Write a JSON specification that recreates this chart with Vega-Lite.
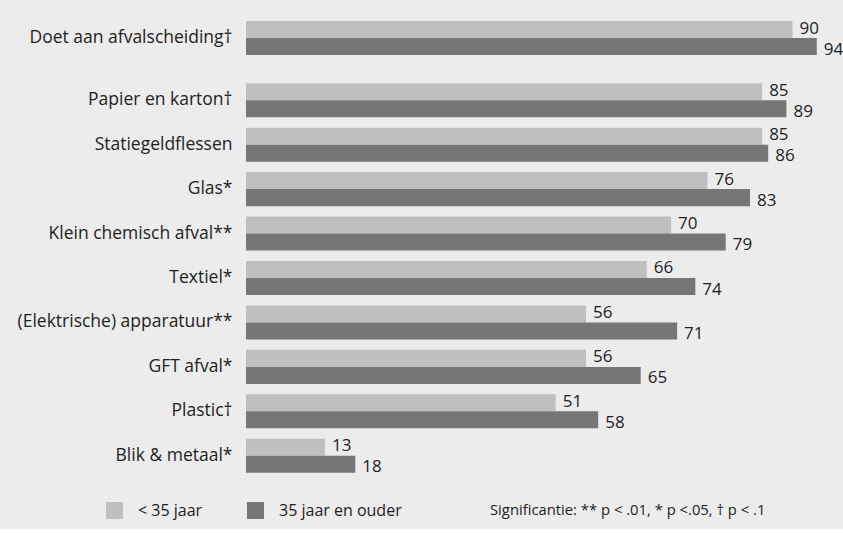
{
  "$schema": "https://vega.github.io/schema/vega-lite/v6.json",
  "background": "#ececec",
  "padding": {"left": 6, "top": 19, "right": 4, "bottom": 10},
  "config": {
    "font": "Open Sans",
    "view": {"stroke": null},
    "axis": {"labelFont": "Open Sans", "labelFontSize": 17.5, "labelColor": "#1e1e1e", "ticks": false, "domain": false, "grid": false, "labelPadding": 14, "minExtent": 240, "maxExtent": 240, "labelLimit": 240},
    "legend": {"labelFont": "Open Sans", "titleFont": "Open Sans"}
  },
  "data": {"values": [
    {"cat": "Doet aan afvalscheiding†", "group": "< 35 jaar", "value": 90},
    {"cat": "Doet aan afvalscheiding†", "group": "35 jaar en ouder", "value": 94},
    {"cat": "Papier en karton†", "group": "< 35 jaar", "value": 85},
    {"cat": "Papier en karton†", "group": "35 jaar en ouder", "value": 89},
    {"cat": "Statiegeldflessen", "group": "< 35 jaar", "value": 85},
    {"cat": "Statiegeldflessen", "group": "35 jaar en ouder", "value": 86},
    {"cat": "Glas*", "group": "< 35 jaar", "value": 76},
    {"cat": "Glas*", "group": "35 jaar en ouder", "value": 83},
    {"cat": "Klein chemisch afval**", "group": "< 35 jaar", "value": 70},
    {"cat": "Klein chemisch afval**", "group": "35 jaar en ouder", "value": 79},
    {"cat": "Textiel*", "group": "< 35 jaar", "value": 66},
    {"cat": "Textiel*", "group": "35 jaar en ouder", "value": 74},
    {"cat": "(Elektrische) apparatuur**", "group": "< 35 jaar", "value": 56},
    {"cat": "(Elektrische) apparatuur**", "group": "35 jaar en ouder", "value": 71},
    {"cat": "GFT afval*", "group": "< 35 jaar", "value": 56},
    {"cat": "GFT afval*", "group": "35 jaar en ouder", "value": 65},
    {"cat": "Plastic†", "group": "< 35 jaar", "value": 51},
    {"cat": "Plastic†", "group": "35 jaar en ouder", "value": 58},
    {"cat": "Blik & metaal*", "group": "< 35 jaar", "value": 13},
    {"cat": "Blik & metaal*", "group": "35 jaar en ouder", "value": 18}
  ]},
  "spacing": 20,
  "resolve": {"scale": {"color": "shared", "x": "shared", "y": "independent", "yOffset": "independent"}, "legend": {"color": "shared"}},
  "vconcat": [
    {
      "width": 589,
      "height": 34,
      "transform": [{"filter": "datum.cat === 'Doet aan afvalscheiding†'"}],
      "encoding": {
        "y": {"field": "cat", "type": "nominal", "sort": null, "title": null, "scale": {"paddingInner": 0, "paddingOuter": 0}},
        "yOffset": {"field": "group", "type": "nominal", "sort": ["< 35 jaar", "35 jaar en ouder"], "scale": {"paddingInner": 0, "paddingOuter": 0}},
        "x": {"field": "value", "type": "quantitative", "scale": {"domain": [0, 97]}, "axis": null}
      },
      "layer": [
        {
          "mark": {"type": "bar"},
          "encoding": {
            "color": {"field": "group", "type": "nominal", "sort": ["< 35 jaar", "35 jaar en ouder"],
              "scale": {"domain": ["< 35 jaar", "35 jaar en ouder"], "range": ["#bfbfbf", "#767676"]},
              "legend": {"orient": "none", "legendX": -140, "legendY": 481, "direction": "horizontal", "title": "Significantie: ** p < .01, * p <.05, † p < .1", "titleOrient": "right", "titlePadding": 88, "titleLimit": 500, "titleFontSize": 14.8, "titleFontWeight": "normal", "titleColor": "#1e1e1e", "titleBaseline": "middle", "labelFontSize": 16, "labelColor": "#1e1e1e", "symbolType": "square", "symbolSize": 289, "symbolStrokeWidth": 0, "symbolOpacity": 1, "labelOffset": 15, "columnPadding": 44, "padding": 0}
            }
          }
        },
        {
          "transform": [{"filter": "datum.group === '< 35 jaar'"}],
          "mark": {"type": "text", "align": "left", "baseline": "middle", "dx": 7, "dy": -1, "fontSize": 17, "color": "#1e1e1e"},
          "encoding": {"text": {"field": "value", "type": "quantitative"}}
        },
        {
          "transform": [{"filter": "datum.group === '35 jaar en ouder'"}],
          "mark": {"type": "text", "align": "left", "baseline": "middle", "dx": 7, "dy": 3, "fontSize": 17, "color": "#1e1e1e"},
          "encoding": {"text": {"field": "value", "type": "quantitative"}}
        }
      ]
    },
    {
      "width": 589,
      "height": 400,
      "transform": [{"filter": "datum.cat !== 'Doet aan afvalscheiding†'"}],
      "encoding": {
        "y": {"field": "cat", "type": "nominal", "sort": null, "title": null, "scale": {"paddingInner": 0.234, "paddingOuter": 0.117}},
        "yOffset": {"field": "group", "type": "nominal", "sort": ["< 35 jaar", "35 jaar en ouder"], "scale": {"paddingInner": 0, "paddingOuter": 0}},
        "x": {"field": "value", "type": "quantitative", "scale": {"domain": [0, 97]}, "axis": null}
      },
      "layer": [
        {
          "mark": {"type": "bar"},
          "encoding": {
            "color": {"field": "group", "type": "nominal", "sort": ["< 35 jaar", "35 jaar en ouder"]}
          }
        },
        {
          "transform": [{"filter": "datum.group === '< 35 jaar'"}],
          "mark": {"type": "text", "align": "left", "baseline": "middle", "dx": 7, "dy": -1, "fontSize": 17, "color": "#1e1e1e"},
          "encoding": {"text": {"field": "value", "type": "quantitative"}}
        },
        {
          "transform": [{"filter": "datum.group === '35 jaar en ouder'"}],
          "mark": {"type": "text", "align": "left", "baseline": "middle", "dx": 7, "dy": 3, "fontSize": 17, "color": "#1e1e1e"},
          "encoding": {"text": {"field": "value", "type": "quantitative"}}
        }
      ]
    }
  ]
}
